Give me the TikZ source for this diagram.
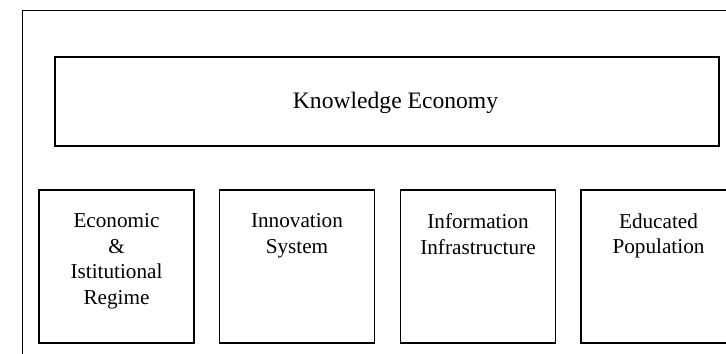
\documentclass[tikz,border=0pt]{standalone}
\usepackage{fontspec}
\setmainfont{Liberation Serif}
\begin{document}
\begin{tikzpicture}[x=0.5pt, y=-0.5pt,
        pillar/.style={draw, line width=0.6pt, minimum width=77.5pt, minimum height=76.5pt, inner sep=0pt},
        pillartext/.style={anchor=north, inner sep=0pt, align=center, font=\fontsize{10.6}{12.7}\selectfont}]
        \useasboundingbox (0,0) rectangle (726,353);
        \clip (0,0) rectangle (726,353);

        \draw[line width=0.6pt] (22.5,360) -- (22.5,10.5) -- (740,10.5);

        \node[draw, line width=0.6pt, minimum width=332pt, minimum height=44.5pt, inner sep=0pt] (ke) at (387,101.5) {};
        \node[anchor=base, font=\fontsize{11.8}{14}\selectfont] (ketext) at (395.5,108) {Knowledge Economy};

        \node[pillar] (eir) at (116.5,266.5) {};
        \node[pillar] (is) at (297,266.5) {};
        \node[pillar] (ii) at (478,266.5) {};
        \node[pillar] (ep) at (658.5,266.5) {};

        \node[pillartext] (eirtext) at ([yshift=-12pt]eir.north) {Economic\\\&\\Istitutional\\Regime};
        \node[pillartext] (istext) at ([yshift=-12pt]is.north) {Innovation\\System};
        \node[pillartext] (iitext) at ([yshift=-12pt]ii.north) {Information\\Infrastructure};
        \node[pillartext] (eptext) at ([yshift=-12pt]ep.north) {Educated\\Population};
    \end{tikzpicture}
\end{document}
